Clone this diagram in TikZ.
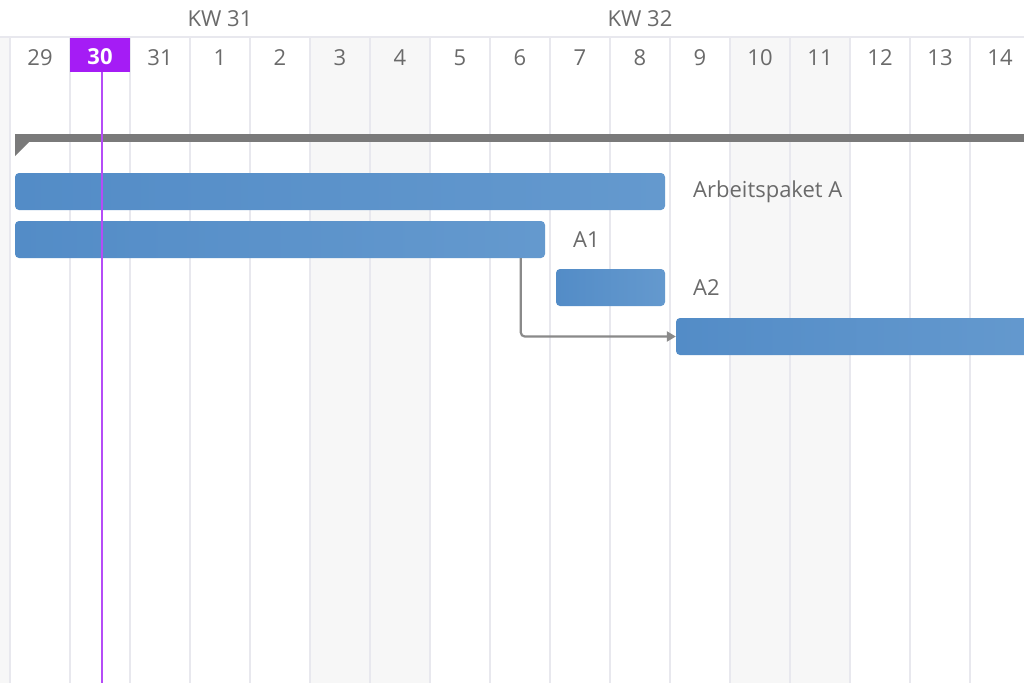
\documentclass[tikz,border=0pt]{standalone}
\usepackage{fontspec}
\setmainfont{Open Sans}
\usetikzlibrary{arrows.meta}
\definecolor{gridc}{HTML}{E8E8EE}
\definecolor{wkend}{HTML}{F7F7F7}
\definecolor{txt}{HTML}{6A6A6A}
\definecolor{today}{HTML}{A51CF5}
\definecolor{todayline}{HTML}{B54CF7}
\definecolor{barL}{HTML}{538CC7}
\definecolor{barR}{HTML}{6499CE}
\definecolor{sumc}{HTML}{7A7A7A}
\definecolor{connc}{HTML}{8A8A8A}
\tikzset{
  lbl/.style={text=txt, font=\fontsize{22}{26}\selectfont, inner sep=0pt},
  daylbl/.style={lbl, anchor=center},
  bar/.style={rectangle, rounded corners=4pt, left color=barL, right color=barR, draw=none, inner sep=0pt},
  conn/.style={draw=connc, line width=2.2pt, rounded corners=4pt, -{Triangle[length=9pt,width=10pt]}},
  gridline/.style={draw=gridc, line width=1.5pt}
}
\begin{document}
\begin{tikzpicture}[x=1pt,y=-1pt]
\useasboundingbox (0,0) rectangle (1024,683);
\fill[white] (0,0) rectangle (1024,683);
% weekend shading
\fill[wkend] (0,37) rectangle (10,683);
\fill[wkend] (310,37) rectangle (430,683);
\fill[wkend] (730,37) rectangle (850,683);
% grid lines
\foreach \i in {0,...,16} {
  \draw[gridline] (10+60*\i,37) -- (10+60*\i,683);
}
\draw[draw=gridc, line width=1.5pt] (0,37) -- (1024,37);
% week labels
\node[lbl] (kw31) at (220,19) {KW 31};
\node[lbl] (kw32) at (640,19) {KW 32};
% today box
\node[rectangle, fill=today, minimum width=60pt, minimum height=34pt, inner sep=0pt,
      text=white, font=\fontsize{22}{26}\selectfont\bfseries] (d30) at (100,54.5) {\raisebox{-2.5pt}[\height][\depth]{30}};
% day labels
\foreach \d/\i in {29/0,31/2,1/3,2/4,3/5,4/6,5/7,6/8,7/9,8/10,9/11,10/12,11/13,12/14,13/15,14/16} {
  \node[daylbl] (day\i) at (40+60*\i,57.5) {\d};
}
% summary bar
\fill[sumc] (15,134) rectangle (1024,142);
\fill[sumc] (15,141) -- (30,141) -- (15,156) -- cycle;
% bars
\node[bar, minimum width=650pt, minimum height=37pt] (ap) at (340,191.5) {};
\node[bar, minimum width=530pt, minimum height=37pt] (a1) at (280,239.5) {};
\node[bar, minimum width=109pt, minimum height=37pt] (a2) at (610.5,287.5) {};
\node[bar, minimum width=360pt, minimum height=37pt] (b) at (856,336.5) {};
% labels
\node[lbl, anchor=west] (apl) at (693,191.5) {Arbeitspaket A};
\node[lbl, anchor=west] (a1l) at (573,239.5) {A1};
\node[lbl, anchor=west] (a2l) at (693,287.5) {A2};
% connector
\draw[conn] (a1.south west) ++(506,0) |- (b.west);
% today line
\coordinate (tend) at (102,683);
\draw[todayline, line width=2pt] (d30.south -| tend) -- (tend);
\end{tikzpicture}
\end{document}
